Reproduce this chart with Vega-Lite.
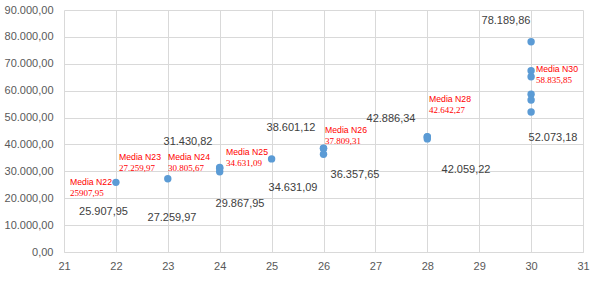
{
  "$schema": "https://vega.github.io/schema/vega-lite/v6.json",
  "width": 519,
  "height": 242,
  "autosize": {"type": "none"},
  "padding": {"left": 64, "top": 10, "right": 17, "bottom": 29},
  "background": "white",
  "config": {
    "locale": {"number": {"decimal": ",", "thousands": ".", "grouping": [3], "currency": ["", " €"]}},
    "view": {"stroke": null},
    "axis": {"labelFont": "Liberation Sans", "labelFontSize": 11, "labelColor": "#595959", "gridColor": "#D9D9D9", "domainColor": "#D9D9D9", "ticks": false, "title": null, "labelOverlap": false, "labelFlush": false, "labelBound": false}
  },
  "datasets": {
    "points": [
      {"n": 22, "v": 25907.95},
      {"n": 23, "v": 27259.97},
      {"n": 24, "v": 31430.82},
      {"n": 24, "v": 31118.24},
      {"n": 24, "v": 29867.95},
      {"n": 25, "v": 34631.09},
      {"n": 26, "v": 38601.12},
      {"n": 26, "v": 38469.16},
      {"n": 26, "v": 36357.65},
      {"n": 28, "v": 42886.34},
      {"n": 28, "v": 42811.76},
      {"n": 28, "v": 42059.22},
      {"n": 30, "v": 78189.86},
      {"n": 30, "v": 67400},
      {"n": 30, "v": 65200},
      {"n": 30, "v": 58650},
      {"n": 30, "v": 56530},
      {"n": 30, "v": 52073.18}
    ],
    "extremes": [
      {"label": "25.907,95", "n": 21.761, "v": 14876},
      {"label": "27.259,97", "n": 23.081, "v": 12645},
      {"label": "31.430,82", "n": 23.389, "v": 40909},
      {"label": "29.867,95", "n": 24.391, "v": 17851},
      {"label": "34.631,09", "n": 25.412, "v": 23802},
      {"label": "38.601,12", "n": 25.374, "v": 46116},
      {"label": "36.357,65", "n": 26.607, "v": 28636},
      {"label": "42.886,34", "n": 27.301, "v": 49463},
      {"label": "42.059,22", "n": 28.746, "v": 30496},
      {"label": "78.189,86", "n": 29.516, "v": 85909},
      {"label": "52.073,18", "n": 30.422, "v": 42397}
    ],
    "means": [
      {"name": "Media N22", "mean": "25907,95", "n": 21.116, "v": 23981},
      {"name": "Media N23", "mean": "27.259,97", "n": 22.06, "v": 33285},
      {"name": "Media N24", "mean": "30.805,67", "n": 23.004, "v": 33285},
      {"name": "Media N25", "mean": "34.631,09", "n": 24.121, "v": 35145},
      {"name": "Media N26", "mean": "37.809,31", "n": 26.029, "v": 43326},
      {"name": "Media N28", "mean": "42.642,27", "n": 28.033, "v": 54857},
      {"name": "Media N30", "mean": "58.835,85", "n": 30.094, "v": 66012}
    ]
  },
  "encoding": {
    "x": {"field": "n", "type": "quantitative", "scale": {"domain": [21, 31], "nice": false, "zero": false},
      "axis": {"values": [21, 22, 23, 24, 25, 26, 27, 28, 29, 30, 31], "labelPadding": 8, "grid": true}},
    "y": {"field": "v", "type": "quantitative", "scale": {"domain": [0, 90000], "nice": false},
      "axis": {"values": [0, 10000, 20000, 30000, 40000, 50000, 60000, 70000, 80000, 90000], "format": ",.2f", "labelPadding": 11, "grid": true, "domain": false}}
  },
  "layer": [
    {
      "data": {"name": "points"},
      "mark": {"type": "circle", "color": "#5B9BD5", "opacity": 1, "size": 55}
    },
    {
      "data": {"name": "extremes"},
      "mark": {"type": "text", "font": "Liberation Sans", "fontSize": 11, "color": "#404040", "align": "center", "baseline": "middle"},
      "encoding": {"text": {"field": "label"}}
    },
    {
      "data": {"name": "means"},
      "mark": {"type": "text", "font": "Liberation Sans", "fontSize": 8.7, "color": "#FF0000", "align": "left", "baseline": "middle", "dy": -5.5},
      "encoding": {"text": {"field": "name"}}
    },
    {
      "data": {"name": "means"},
      "mark": {"type": "text", "font": "Liberation Serif", "fontSize": 9, "color": "#FF0000", "align": "left", "baseline": "middle", "dy": 5.5},
      "encoding": {"text": {"field": "mean"}}
    }
  ]
}
